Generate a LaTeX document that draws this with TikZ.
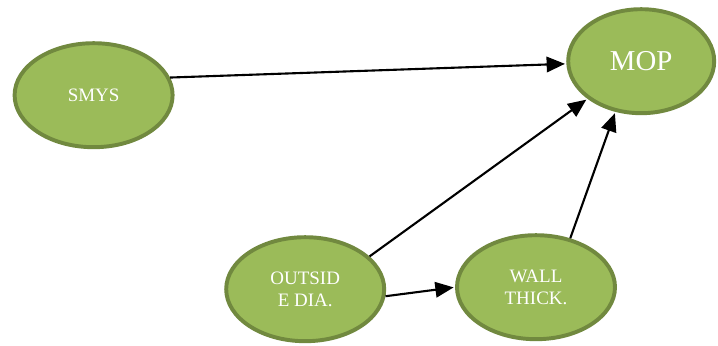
\documentclass[tikz,border=0pt]{standalone}
\usepackage{fontspec}
\setmainfont{Liberation Serif}
\usetikzlibrary{shapes.geometric,arrows.meta}
\definecolor{olive}{HTML}{9BBB59}
\definecolor{olivedark}{HTML}{71893F}
\tikzstyle{factor}=[ellipse, draw=olivedark, fill=olive, line width=2.8pt,
  text=white, align=center, inner sep=0pt, minimum width=3.95cm,
  minimum height=2.6cm, font=\fontsize{13.5}{16}\selectfont]
\tikzstyle{result}=[factor, minimum width=3.65cm, minimum height=2.6cm,
  font=\fontsize{20.5}{24}\selectfont]
\tikzstyle{line}=[draw, line width=1.5pt, color=black,
  -{Triangle[length=13pt,width=11pt]}, shorten >=1pt]
\newcommand{\factor}[2]{node (#1) [factor] {#2}}

\begin{document}
\begin{tikzpicture}
\useasboundingbox (0,0) rectangle (17.95,-8.625);

% Draw diagram elements
\path (2.34,-2.38)              \factor{smys}{SMYS};
\path (smys)+(13.69,0.85)       node (mop) [result] {MOP};
\path (smys)+(5.29,-4.85)       \factor{outside}{OUTSID\\E DIA.};
\path (outside)+(5.77,0.05)     \factor{wall}{WALL\\THICK.};

% Draw arrows between elements
\path [line] (smys.13) -- (mop.182);
\path [line] (outside.27) -- (mop.215);
\path [line] (wall.55) -- (mop.243);
\path [line] (outside.355) -- (wall.180);
\end{tikzpicture}
\end{document}
